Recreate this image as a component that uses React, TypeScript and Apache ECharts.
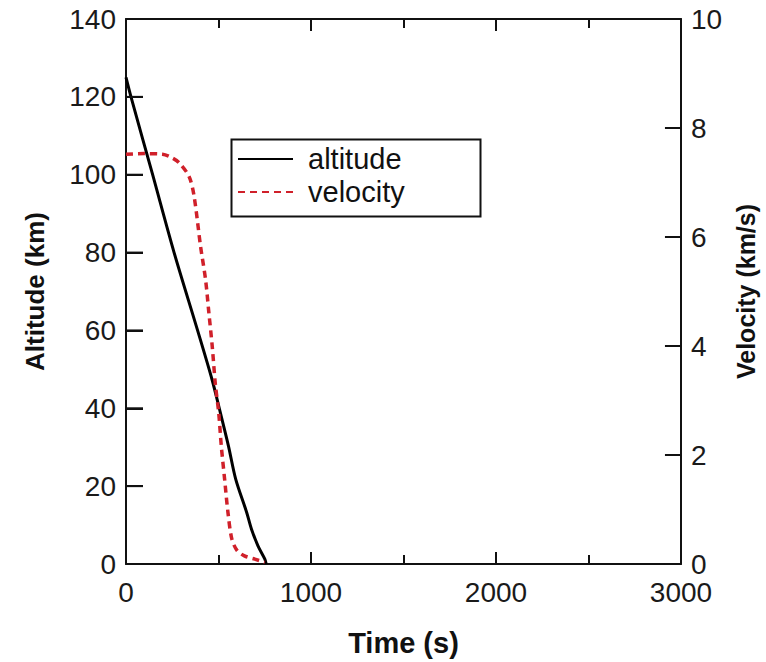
import React, { useEffect, useRef } from "react";
import * as echarts from "echarts";

const timeAltitude = [0, 27, 144, 260, 387, 465, 510, 554, 593, 652, 678, 714, 750, 758];
const altitude = [125, 120, 100, 80, 60, 47.4, 38.9, 30.3, 21.8, 13.3, 9.0, 4.6, 1.3, 0];

const timeVelocity = [0, 100, 197, 250, 288, 341, 368, 403, 430, 448, 466, 483, 501, 515, 533, 551, 572, 600, 640, 696, 750];
const velocity = [7.52, 7.53, 7.52, 7.45, 7.36, 7.11, 6.75, 5.83, 5.22, 4.61, 4.0, 3.3, 2.78, 2.17, 1.56, 0.95, 0.46, 0.25, 0.15, 0.09, 0.03];

const xTicks = [0, 1000, 2000, 3000];
const altitudeTicks = [20, 40, 60, 80, 100, 120];
const tickSpanSeconds = 90;
const seriesNames = ["altitude", "velocity"];

const FONT = "'Liberation Sans', Arial, sans-serif";

const mkLine = () => ({ show: true, onZero: false, lineStyle: { color: "#111", width: 2 } });
const mkTick = (length: number) => ({ show: true, inside: true, length, lineStyle: { color: "#111", width: 2 } });
const mkLabel = (margin: number) => ({ show: true, color: "#1a1a1a", fontSize: 28, fontFamily: FONT, lineHeight: 24, margin });

const legendBox = {
  id: "legendBox",
  type: "rect",
  left: 229,
  top: 137,
  shape: { width: 249, height: 77 },
  style: { fill: "none", stroke: "#111", lineWidth: 2 },
  z: 10,
};

export default function App() {
  const ref = useRef<HTMLDivElement>(null);
  useEffect(() => {
    if (!ref.current) return;
    const chart = echarts.init(ref.current, null, { renderer: "svg" });
    chart.setOption({
      animation: false,
      backgroundColor: "#fff",
      grid: { left: 126, right: 77, top: 19, bottom: 97, containLabel: false },
      xAxis: [
        {
          type: "value",
          min: 0,
          max: 3000,
          interval: 1000,
          position: "bottom",
          axisLine: mkLine(),
          axisTick: mkTick(12),
          minorTick: { show: true, splitNumber: 2, length: 9, lineStyle: { color: "#111", width: 2 } },
          splitLine: { show: false },
          axisLabel: {
            ...mkLabel(16),
            formatter: (v: number) => (xTicks.includes(v) ? String(v) : ""),
          },
          name: "Time (s)",
          nameLocation: "middle",
          nameGap: 64,
          nameTextStyle: { fontSize: 29, fontWeight: "bold", color: "#111", fontFamily: FONT },
        },
        {
          type: "value",
          min: 0,
          max: 3000,
          interval: 1000,
          position: "top",
          axisLine: mkLine(),
          axisTick: mkTick(12),
          minorTick: { show: true, splitNumber: 2, length: 9, lineStyle: { color: "#111", width: 2 } },
          splitLine: { show: false },
          axisLabel: { show: false },
        },
      ],
      yAxis: [
        {
          type: "value",
          min: 0,
          max: 140,
          interval: 20,
          position: "left",
          axisLine: mkLine(),
          axisTick: mkTick(17),
          splitLine: { show: false },
          axisLabel: mkLabel(10),
          name: "Altitude (km)",
          nameLocation: "middle",
          nameGap: 78,
          nameRotate: 90,
          nameTextStyle: { fontSize: 26, fontWeight: "bold", color: "#111", fontFamily: FONT },
        },
        {
          type: "value",
          min: 0,
          max: 10,
          interval: 2,
          position: "right",
          axisLine: mkLine(),
          axisTick: mkTick(16),
          splitLine: { show: false },
          axisLabel: mkLabel(10),
          name: "Velocity (km/s)",
          nameLocation: "middle",
          nameGap: 40,
          nameRotate: 90,
          nameTextStyle: { fontSize: 25, fontWeight: "bold", color: "#111", fontFamily: FONT },
        },
      ],
      legend: {
        show: true,
        orient: "vertical",
        left: 229,
        top: 137,
        padding: [7, 8, 7, 8],
        itemGap: 3,
        itemWidth: 55,
        itemHeight: 14,
        data: seriesNames,
        itemStyle: { opacity: 0 },
        textStyle: { fontSize: 29, color: "#111", fontFamily: FONT, lineHeight: 30, padding: [0, 0, 0, 10] },
      },
      graphic: [legendBox],
      series: [
        {
          name: seriesNames[0],
          type: "line",
          xAxisIndex: 0,
          yAxisIndex: 0,
          symbol: "none",
          smooth: 0.3,
          data: timeAltitude.map((t, i) => [t, altitude[i]]),
          lineStyle: { color: "#000", width: 3 },
          itemStyle: { color: "#000" },
          markLine: {
            silent: true,
            symbol: "none",
            label: { show: false },
            lineStyle: { color: "#111", width: 2, type: "solid" },
            emphasis: { disabled: true },
            data: altitudeTicks.map((v) => [
              { coord: [0, v] },
              { coord: [tickSpanSeconds, v] },
            ]),
          },
        },
        {
          name: seriesNames[1],
          type: "line",
          xAxisIndex: 0,
          yAxisIndex: 1,
          symbol: "none",
          smooth: 0.3,
          data: timeVelocity.map((t, i) => [t, velocity[i]]),
          lineStyle: { color: "#d0202a", width: 3.5, type: [7, 5] },
          itemStyle: { color: "#d0202a" },
        },
      ],
    });
    // Extra safety: inner ticks on the altitude axis positioned through the chart's own scales.
    try {
      const x0 = chart.convertToPixel({ xAxisIndex: 0 }, 0) as unknown as number;
      const tickLines = altitudeTicks.map((v, i) => {
        const y = chart.convertToPixel({ yAxisIndex: 0 }, v) as unknown as number;
        return {
          id: "ytick" + i,
          type: "line",
          shape: { x1: x0, y1: y, x2: x0 + 17, y2: y },
          style: { stroke: "#111", lineWidth: 2 },
          z: 20,
          silent: true,
        };
      });
      if (typeof x0 === "number" && isFinite(x0)) {
        chart.setOption({ graphic: [legendBox, ...tickLines] });
      }
    } catch (e) {
      // ignore
    }
    return () => chart.dispose();
  }, []);
  return (
    <div
      ref={ref}
      style={{ position: "fixed", left: 0, top: 0, width: 766, height: 662, background: "#fff" }}
    />
  );
}
